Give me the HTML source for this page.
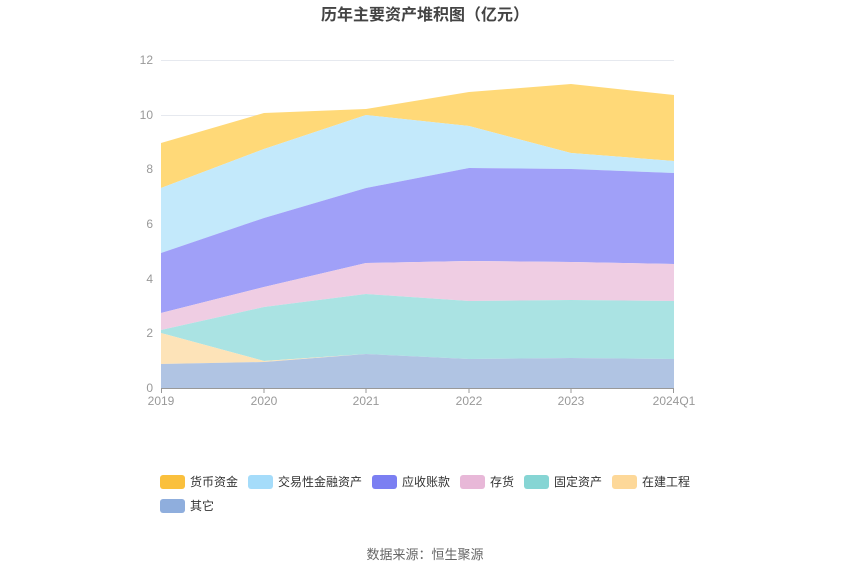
<!DOCTYPE html>
<html><head><meta charset="utf-8"><style>
body{margin:0;background:#fff;width:850px;height:575px;overflow:hidden;font-family:"Liberation Sans","Noto Sans CJK SC",sans-serif;}
</style></head><body>
<svg width="850" height="575" xmlns="http://www.w3.org/2000/svg" style="font-family:'Liberation Sans','Noto Sans CJK SC',sans-serif">
<text x="425" y="20" text-anchor="middle" font-size="16" font-weight="bold" fill="#444">历年主要资产堆积图（亿元）</text>
<g stroke="#e6e9ef" stroke-width="1">
<line x1="161" y1="60.5" x2="674" y2="60.5"/><line x1="161" y1="115.5" x2="674" y2="115.5"/><line x1="161" y1="169.5" x2="674" y2="169.5"/><line x1="161" y1="224.5" x2="674" y2="224.5"/><line x1="161" y1="279.5" x2="674" y2="279.5"/><line x1="161" y1="333.5" x2="674" y2="333.5"/>
</g>
<g font-size="12" fill="#999" text-anchor="end">
<text x="153" y="64">12</text><text x="153" y="119">10</text><text x="153" y="173">8</text><text x="153" y="228">6</text><text x="153" y="283">4</text><text x="153" y="337">2</text><text x="153" y="392">0</text>
</g>
<!-- areas: x = 161,264,366,469,571,674 -->
<polygon fill="#ffd978" points="161,143 264,113 366,109 469,92 571,84 674,95 674,161 571,153 469,126 366,115 264,149 161,188"/>
<polygon fill="#c3e9fb" points="161,188 264,149 366,115 469,126 571,153 674,161 674,173 571,169 469,168 366,188 264,218 161,253"/>
<polygon fill="#a0a0f8" points="161,253 264,218 366,188 469,168 571,169 674,173 674,264 571,262 469,261 366,263 264,287 161,313"/>
<polygon fill="#efcde3" points="161,313 264,287 366,263 469,261 571,262 674,264 674,301 571,300 469,301 366,294 264,307 161,330"/>
<polygon fill="#aae3e3" points="161,330 264,307 366,294 469,301 571,300 674,301 674,359 571,358 469,359 366,354 264,361 161,333"/>
<polygon fill="#fde3b8" points="161,333 264,361 366,354 469,359 571,358 674,359 674,359 571,358 469,359 366,354 264,362 161,364"/>
<polygon fill="#b0c4e3" points="161,364 264,362 366,354 469,359 571,358 674,359 674,388 161,388"/>
<line x1="161" y1="388.5" x2="674" y2="388.5" stroke="#999"/>
<g stroke="#999"><line x1="161.5" y1="388" x2="161.5" y2="393"/><line x1="264" y1="388" x2="264" y2="393"/><line x1="366" y1="388" x2="366" y2="393"/><line x1="469" y1="388" x2="469" y2="393"/><line x1="571" y1="388" x2="571" y2="393"/><line x1="673.5" y1="388" x2="673.5" y2="393"/></g>
<g font-size="12" fill="#999" text-anchor="middle">
<text x="161" y="405">2019</text><text x="264" y="405">2020</text><text x="366" y="405">2021</text><text x="469" y="405">2022</text><text x="571" y="405">2023</text><text x="674" y="405">2024Q1</text>
</g>
<g font-size="12" fill="#333">
<rect x="160" y="475" width="25" height="14" rx="3" fill="#fac03d"/><text x="190" y="486">货币资金</text>
<rect x="248" y="475" width="25" height="14" rx="3" fill="#a5dcfa"/><text x="278" y="486">交易性金融资产</text>
<rect x="372" y="475" width="25" height="14" rx="3" fill="#7b7ff2"/><text x="402" y="486">应收账款</text>
<rect x="460" y="475" width="25" height="14" rx="3" fill="#e8b8d8"/><text x="490" y="486">存货</text>
<rect x="524" y="475" width="25" height="14" rx="3" fill="#86d5d4"/><text x="554" y="486">固定资产</text>
<rect x="612" y="475" width="25" height="14" rx="3" fill="#fdd899"/><text x="642" y="486">在建工程</text>
<rect x="160" y="499" width="25" height="14" rx="3" fill="#8faedd"/><text x="190" y="510">其它</text>
</g>
<text x="425" y="559" text-anchor="middle" font-size="13" fill="#666">数据来源：恒生聚源</text>
</svg>
</body></html>
